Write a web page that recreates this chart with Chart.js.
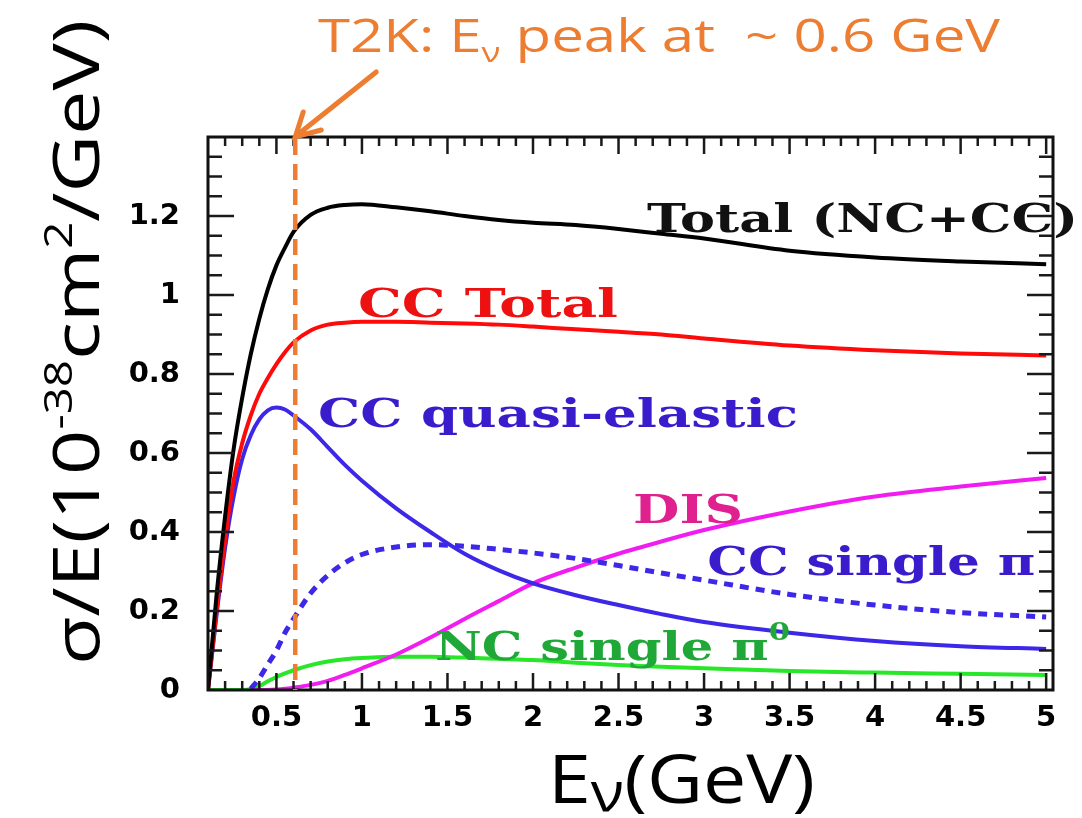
<!DOCTYPE html>
<html>
<head>
<meta charset="utf-8">
<title>Neutrino cross sections per energy</title>
<script src="https://cdn.jsdelivr.net/npm/chart.js@4.4.1/dist/chart.umd.min.js"></script>
<style>
  html, body { margin: 0; padding: 0; background: #fff; }
  #wrap { width: 1082px; height: 818px; position: relative; }
</style>
</head>
<body>
<div id="wrap"><canvas id="chart"></canvas></div>
<script>
// E_nu (GeV) grid, values of sigma/E (10^-38 cm^2/GeV)
const energy = [0.1, 0.15, 0.2, 0.25, 0.3, 0.35, 0.4, 0.45, 0.5, 0.55, 0.6, 0.7, 0.8, 0.9, 1.0, 1.2, 1.4, 1.6, 1.8, 2.0, 2.25, 2.5, 2.75, 3.0, 3.5, 4.0, 4.5, 5.0];
const totalNcCc = [0.0, 0.24, 0.44, 0.61, 0.74, 0.85, 0.94, 1.015, 1.075, 1.12, 1.16, 1.203, 1.221, 1.228, 1.23, 1.222, 1.212, 1.2, 1.19, 1.183, 1.177, 1.167, 1.155, 1.143, 1.112, 1.095, 1.085, 1.078];
const ccTotal = [0.0, 0.2, 0.38, 0.53, 0.625, 0.695, 0.75, 0.79, 0.825, 0.855, 0.88, 0.91, 0.925, 0.93, 0.932, 0.932, 0.93, 0.928, 0.925, 0.92, 0.913, 0.907, 0.9, 0.89, 0.872, 0.86, 0.852, 0.847];
const ccQuasiElastic = [0.0, 0.19, 0.36, 0.49, 0.585, 0.645, 0.685, 0.708, 0.715, 0.71, 0.695, 0.66, 0.615, 0.57, 0.53, 0.46, 0.4, 0.345, 0.303, 0.27, 0.24, 0.215, 0.192, 0.172, 0.145, 0.124, 0.111, 0.104];
const ccSinglePi = [null, null, null, null, null, 0.003, 0.03, 0.065, 0.1, 0.145, 0.18, 0.245, 0.29, 0.322, 0.343, 0.362, 0.368, 0.364, 0.356, 0.347, 0.333, 0.315, 0.296, 0.278, 0.242, 0.215, 0.196, 0.185];
const dis = [null, null, null, null, null, 0.0, 0.0, 0.0, 0.001, 0.003, 0.006, 0.013, 0.023, 0.038, 0.055, 0.09, 0.133, 0.18, 0.225, 0.27, 0.31, 0.345, 0.376, 0.405, 0.452, 0.49, 0.515, 0.537];
const ncSinglePi0 = [0.0, 0.0, 0.0, 0.0, 0.0, 0.002, 0.01, 0.022, 0.033, 0.042, 0.05, 0.063, 0.072, 0.078, 0.081, 0.084, 0.084, 0.082, 0.079, 0.076, 0.069, 0.063, 0.059, 0.055, 0.048, 0.044, 0.041, 0.038];

const xTickValues = [0.5, 1, 1.5, 2, 2.5, 3, 3.5, 4, 4.5, 5];
const xTickLabels = ['0.5', '1', '1.5', '2', '2.5', '3', '3.5', '4', '4.5', '5'];
const yTickValues = [0, 0.2, 0.4, 0.6, 0.8, 1, 1.2];
const yTickLabels = ['0', '0.2', '0.4', '0.6', '0.8', '1', '1.2'];
const t2kPeakEnergy = 0.61;

const ORANGE = '#ed7d31';
const serif = { size: 40, family: '"DejaVu Serif"', weight: 'bold', supScale: 0.6, subScale: 0.6 };
const sans = { size: 46, family: '"Open Sans"', weight: 'normal', supScale: 0.6, subScale: 0.6 };

// curve labels: anchor in data units (left, baseline), width in px
const curveLabels = [
  { runs: [['Total (NC+CC)']], color: '#111111', x: 2.667, y: 1.159, width: 431 },
  { runs: [['CC Total']], color: '#ee1111', x: 0.977, y: 0.944, width: 260 },
  { runs: [['CC quasi-elastic']], color: '#3a1ccc', x: 0.743, y: 0.666, width: 480 },
  { runs: [['DIS']], color: '#e0208e', x: 2.585, y: 0.423, width: 110 },
  { runs: [['CC single π']], color: '#3a1ccc', x: 3.018, y: 0.291, width: 328 },
  { runs: [['NC single π'], ['0', 'sup']], color: '#1fa838', x: 1.427, y: 0.076, width: 355 },
];

function el(id) { return document.getElementById(id); }

function series(values) {
  return energy.map((e, i) => ({ x: e, y: values[i] }));
}

function fontStr(f, size) { return `${f.weight} ${size}px ${f.family}`; }

function drawRuns(ctx, runs, f, x, y, width, color, opts) {
  opts = opts || {};
  const pieces = runs.map(([text, kind]) => {
    const size = kind === 'sup' ? f.size * f.supScale : kind === 'sub' ? f.size * f.subScale : f.size;
    ctx.font = fontStr(f, size);
    return { text, kind, size, w: ctx.measureText(text).width };
  });
  const natural = pieces.reduce((s, p) => s + p.w, 0);
  const sx = width ? width / natural : 1;
  ctx.save();
  ctx.translate(x, y);
  if (opts.rotate) ctx.rotate(opts.rotate);
  ctx.scale(sx, 1);
  ctx.fillStyle = color;
  ctx.textAlign = 'left';
  ctx.textBaseline = 'alphabetic';
  let cx = 0;
  pieces.forEach(p => {
    ctx.font = fontStr(f, p.size);
    let dy = 0;
    if (p.kind === 'sup') dy = -f.size * (opts.supRise || 0.42);
    if (p.kind === 'sub') dy = f.size * (opts.subDrop || 0.2);
    ctx.fillText(p.text, cx, dy);
    cx += p.w;
  });
  ctx.restore();
}

function drawFrameTicks(ctx, area, xs, ys) {
  ctx.save();
  ctx.strokeStyle = '#1a1a1a';
  ctx.lineWidth = 2.5;
  ctx.beginPath();
  for (let i = 1; i <= 50; i++) {
    const v = i / 10;
    const px = xs.getPixelForValue(v);
    if (px < area.left + 2 || px > area.right - 2) continue;
    const len = i % 5 === 0 ? 17 : 9;
    ctx.moveTo(px, area.bottom); ctx.lineTo(px, area.bottom - len);
    ctx.moveTo(px, area.top); ctx.lineTo(px, area.top + len);
  }
  for (let i = 1; i < 28; i++) {
    const v = i * 0.05;
    const py = ys.getPixelForValue(v);
    const len = i % 4 === 0 ? 26 : 14;
    ctx.moveTo(area.left, py); ctx.lineTo(area.left + len, py);
    ctx.moveTo(area.right, py); ctx.lineTo(area.right - len, py);
  }
  ctx.stroke();
  ctx.lineWidth = 3;
  ctx.strokeStyle = '#111';
  ctx.strokeRect(area.left, area.top, area.right - area.left, area.bottom - area.top);
  ctx.restore();
}

const decorPlugin = {
  id: 'decor',
  afterDatasetsDraw(chart) {
    const { ctx, chartArea, scales } = chart;
    curveLabels.forEach(l => {
      drawRuns(ctx, l.runs, serif, scales.x.getPixelForValue(l.x), scales.y.getPixelForValue(l.y), l.width, l.color, { supRise: 0.5 });
    });
    drawFrameTicks(ctx, chartArea, scales.x, scales.y);
  },
  afterDraw(chart) {
    const { ctx, chartArea, scales } = chart;
    const px = scales.x.getPixelForValue(t2kPeakEnergy);

    // T2K flux peak marker
    ctx.save();
    ctx.strokeStyle = ORANGE;
    ctx.lineWidth = 4.5;
    ctx.setLineDash([16, 9]);
    ctx.beginPath();
    ctx.moveTo(px, chartArea.top + 2);
    ctx.lineTo(px, chartArea.bottom);
    ctx.stroke();
    ctx.setLineDash([]);
    ctx.lineWidth = 5;
    ctx.lineCap = 'round';
    const tipX = px, tipY = chartArea.top;
    ctx.beginPath();
    ctx.moveTo(tipX + 81, tipY - 65);
    ctx.lineTo(tipX + 2, tipY - 2);
    ctx.moveTo(tipX + 8, tipY - 25);
    ctx.lineTo(tipX, tipY);
    ctx.lineTo(tipX + 26, tipY - 7);
    ctx.stroke();
    ctx.restore();

    drawRuns(ctx, [['T2K: E'], ['ν', 'sub'], [' peak at  ~ 0.6 GeV']], sans, 318, 52, 682, ORANGE, { subDrop: 0.22 });

    const axisFont = { size: 68, family: '"Open Sans"', weight: 'normal', supScale: 0.6, subScale: 0.8 };
    drawRuns(ctx, [['E'], ['ν', 'sub'], ['(GeV)']], axisFont, 548, 803, 267, '#000', { subDrop: 0.12 });

    const yFont = { size: 64, family: '"Open Sans"', weight: 'normal', supScale: 0.6, subScale: 0.6 };
    drawRuns(ctx, [['σ/E(10'], ['-38', 'sup'], ['cm'], ['2', 'sup'], ['/GeV)']], yFont, 99, 665, 645, '#000',
      { rotate: -Math.PI / 2, supRise: 0.42 });
  }
};

const tickFont = { family: '"DejaVu Sans"', size: 29, weight: 'bold' };

function line(label, values, color, extra) {
  return Object.assign({
    label,
    data: series(values),
    borderColor: color,
    borderWidth: 4,
    pointRadius: 0,
    fill: false,
    cubicInterpolationMode: 'monotone',
    spanGaps: false,
  }, extra || {});
}

new Chart(el('chart').getContext('2d'), {
  type: 'line',
  data: {
    datasets: [
      line('Total (NC+CC)', totalNcCc, '#000000'),
      line('CC Total', ccTotal, '#ff0a0a'),
      line('CC quasi-elastic', ccQuasiElastic, '#3c28e6'),
      line('CC single π', ccSinglePi, '#3c28e6', { borderDash: [9, 7], borderWidth: 5 }),
      line('DIS', dis, '#f01cf0'),
      line('NC single π0', ncSinglePi0, '#28e628'),
    ],
  },
  options: {
    responsive: true,
    maintainAspectRatio: false,
    animation: false,
    layout: { padding: { top: 137, right: 29, left: 0, bottom: 0 } },
    plugins: { legend: { display: false }, tooltip: { enabled: false } },
    scales: {
      x: {
        type: 'linear', min: 0.1, max: 5.04,
        grid: { display: false, drawTicks: false },
        border: { display: false },
        afterBuildTicks: s => { s.ticks = xTickValues.map(v => ({ value: v })); },
        afterFit: s => { s.height = 128; },
        ticks: { color: '#000', font: tickFont, padding: 11, autoSkip: false, maxRotation: 0,
          callback: (v, i) => xTickLabels[i] },
      },
      y: {
        type: 'linear', min: 0, max: 1.4,
        grid: { display: false, drawTicks: false },
        border: { display: false },
        afterBuildTicks: s => { s.ticks = yTickValues.map(v => ({ value: v })); },
        afterFit: s => { s.width = 208; },
        ticks: { color: '#000', font: tickFont, padding: 28, autoSkip: false,
          callback: (v, i) => yTickLabels[i] },
      },
    },
  },
  plugins: [decorPlugin],
});
</script>
</body>
</html>
